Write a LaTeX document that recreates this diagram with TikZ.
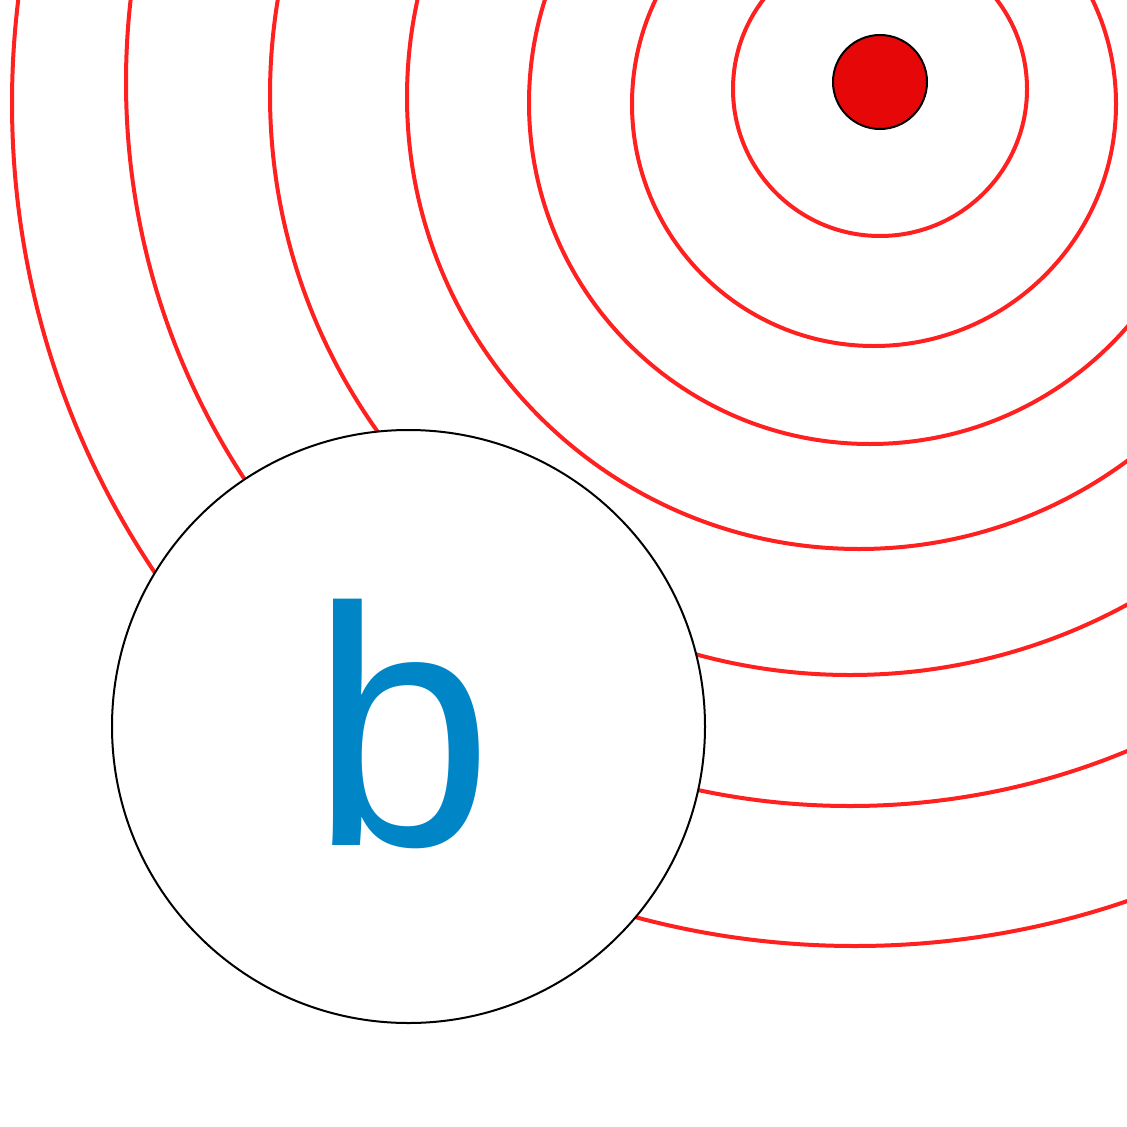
\documentclass[tikz,border=0pt]{standalone}
\usepackage{fontspec}
\setmainfont{Liberation Sans}
\definecolor{ringred}{RGB}{255,32,32}
\definecolor{dotred}{RGB}{230,8,8}
\definecolor{bblue}{RGB}{0,133,199}
\begin{document}
\begin{tikzpicture}[x=1pt,y=-1pt,
  ring/.style={draw=ringred,line width=4pt},
  bigcirc/.style={circle,draw=black,line width=2pt,fill=white,minimum size=593pt,inner sep=0pt,text=bblue,font=\fontsize{340}{340}\selectfont},
  dot/.style={circle,draw=black,line width=2pt,fill=dotred,minimum size=94pt,inner sep=0pt}]
\useasboundingbox (0,0) rectangle (1127,1127);
\clip (0,0) rectangle (1127,1127);
\draw[ring] (855,103) circle[radius=843];
\draw[ring] (850,82) circle[radius=724];
\draw[ring] (850,95) circle[radius=580];
\draw[ring] (859,97) circle[radius=452];
\draw[ring] (870,103) circle[radius=341];
\draw[ring] (874,104) circle[radius=242];
\draw[ring] (880,89) circle[radius=147];
\node[dot] (src) at (880,82) {};
\node[bigcirc] (b) at (408.5,726.5) {\kern-12pt\raisebox{8pt}{\scalebox{0.96}[1]{b}}};
\end{tikzpicture}
\end{document}
